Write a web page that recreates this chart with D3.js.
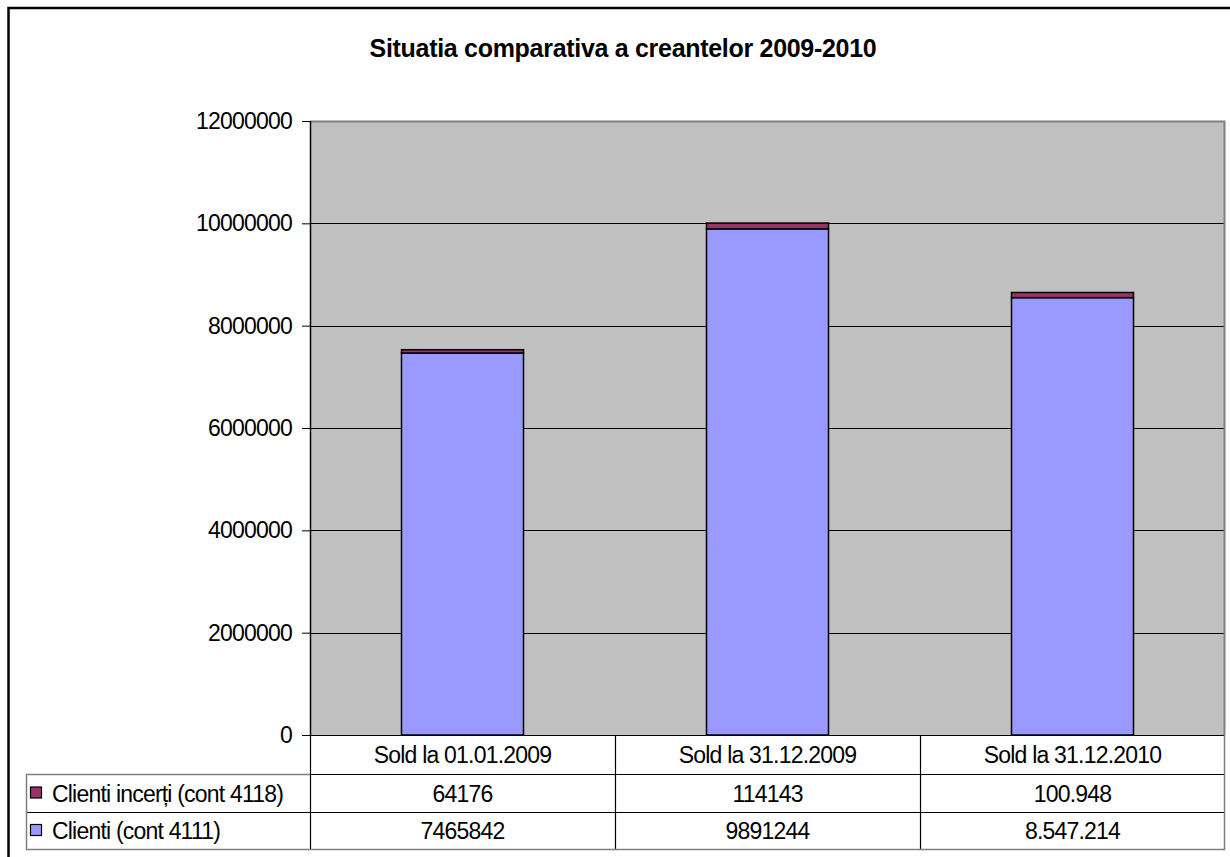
<!DOCTYPE html>
<html>
<head>
<meta charset="utf-8">
<script src="https://cdn.jsdelivr.net/npm/d3@7"></script>
<style>
  html, body { margin: 0; padding: 0; background: #fff; }
  svg { display: block; }
  text { font-family: "Liberation Sans", Arial, sans-serif; fill: #000; }
</style>
</head>
<body>
<svg id="chart" width="1230" height="857"></svg>
<script>
// ---- data ----
const title = "Situatia comparativa a creantelor 2009-2010";
const categories = ["Sold la 01.01.2009", "Sold la 31.12.2009", "Sold la 31.12.2010"];
const seriesNames = ["Clienti (cont 4111)", "Clienti incerți (cont 4118)"];
const clienti = [7465842, 9891244, 8547214];
const clientiIncerti = [64176, 114143, 100948];
const clientiLabels = ["7465842", "9891244", "8.547.214"];
const clientiIncertiLabels = ["64176", "114143", "100.948"];
const yTicks = [0, 2000000, 4000000, 6000000, 8000000, 10000000, 12000000];
const seriesColors = ["#9999FF", "#993366"];

// ---- layout ----
const svg = d3.select("#chart");
const plot = { left: 310, right: 1225, top: 121, bottom: 735 };
const fontSize = 23;
const ls = "-0.8px";

// outer chart border
svg.append("rect")
  .attr("x", 8.5).attr("y", 8).attr("width", 1240).attr("height", 900)
  .attr("fill", "#fff").attr("stroke", "#000").attr("stroke-width", 2.5);

// title
svg.append("text")
  .attr("x", 623).attr("y", 57)
  .attr("text-anchor", "middle")
  .style("font-size", "25px").style("font-weight", "bold")
  .style("letter-spacing", "-0.3px")
  .text(title);

const x = d3.scaleBand().domain(categories)
  .range([plot.left, plot.right]).paddingInner(0.6).paddingOuter(0.3);
const y = d3.scaleLinear().domain([0, 12000000]).range([plot.bottom, plot.top]);

// plot background
svg.append("rect")
  .attr("x", plot.left).attr("y", plot.top)
  .attr("width", plot.right - plot.left).attr("height", plot.bottom - plot.top)
  .attr("fill", "#C0C0C0");

// gridlines
svg.append("g").selectAll("line")
  .data(yTicks.filter(t => t > 0 && t < 12000000))
  .join("line")
  .attr("x1", plot.left).attr("x2", plot.right)
  .attr("y1", d => Math.round(y(d)) + 0.5).attr("y2", d => Math.round(y(d)) + 0.5)
  .attr("stroke", "#000").attr("stroke-width", 1);

// plot border top/right (gray)
svg.append("path")
  .attr("d", `M${plot.left},${plot.top + 0.5}H${plot.right - 0.5}V${plot.bottom}`)
  .attr("fill", "none").attr("stroke", "#808080").attr("stroke-width", 2);

// stacked bars
const rows = categories.map((c, i) => ({ cat: c, a: clienti[i], b: clientiIncerti[i] }));
const stack = d3.stack().keys(["a", "b"])(rows);
svg.append("g").selectAll("g")
  .data(stack)
  .join("g")
  .attr("fill", (d, i) => seriesColors[i])
  .selectAll("rect")
  .data(d => d)
  .join("rect")
  .attr("x", d => x(d.data.cat))
  .attr("width", x.bandwidth())
  .attr("y", d => y(d[1]))
  .attr("height", d => y(d[0]) - y(d[1]))
  .attr("stroke", "#000").attr("stroke-width", 1.5);

// y axis
const yAxis = d3.axisLeft(y).tickValues(yTicks).tickFormat(d3.format("d"))
  .tickSize(8).tickPadding(10);
const gy = svg.append("g").attr("transform", `translate(${plot.left},0)`).call(yAxis);
gy.select(".domain").remove();
gy.selectAll(".tick line").attr("stroke", "#000").attr("stroke-width", 1);
gy.selectAll(".tick text")
  .style("font-size", fontSize + "px")
  .style("letter-spacing", ls)
  .style("font-family", '"Liberation Sans", Arial, sans-serif')
  .attr("fill", "#000");
svg.append("line")
  .attr("x1", plot.left + 0.5).attr("x2", plot.left + 0.5)
  .attr("y1", plot.top).attr("y2", plot.bottom)
  .attr("stroke", "#000").attr("stroke-width", 1.5);

// ---- data table ----
const rowY = [735, 774, 812, 849];
const tableLeft = 26;
const colEdges = [plot.left, ...categories.map(c => x(c) + x.bandwidth() / 2 + x.step() / 2)];
const t = svg.append("g");

// category header row
t.selectAll("text.cat").data(categories).join("text")
  .attr("class", "cat")
  .attr("x", d => x(d) + x.bandwidth() / 2)
  .attr("y", (rowY[0] + rowY[1]) / 2 + 8)
  .attr("text-anchor", "middle")
  .style("font-size", fontSize + "px")
  .style("letter-spacing", ls)
  .text(d => d);

const tableRows = [
  { name: seriesNames[1], color: seriesColors[1], labels: clientiIncertiLabels },
  { name: seriesNames[0], color: seriesColors[0], labels: clientiLabels }
];
tableRows.forEach((r, ri) => {
  const cy = (rowY[ri + 1] + rowY[ri + 2]) / 2;
  t.append("rect")
    .attr("x", 30.5).attr("y", cy - 6).attr("width", 11).attr("height", 11)
    .attr("fill", r.color).attr("stroke", "#000").attr("stroke-width", 1.2);
  t.append("text")
    .attr("x", 52).attr("y", cy + 8.5)
    .style("font-size", fontSize + "px")
    .style("letter-spacing", ls)
    .text(r.name);
  t.selectAll(null).data(categories).join("text")
    .attr("x", d => x(d) + x.bandwidth() / 2)
    .attr("y", cy + 8.5)
    .attr("text-anchor", "middle")
    .style("font-size", fontSize + "px")
    .style("letter-spacing", ls)
    .text((d, i) => r.labels[i]);
});

// inner lines (black)
t.append("line").attr("x1", tableLeft).attr("x2", plot.right)
  .attr("y1", rowY[2] + 0.5).attr("y2", rowY[2] + 0.5)
  .attr("stroke", "#000").attr("stroke-width", 1);
t.append("line").attr("x1", plot.left).attr("x2", plot.right)
  .attr("y1", rowY[1] + 0.5).attr("y2", rowY[1] + 0.5)
  .attr("stroke", "#000").attr("stroke-width", 1);
t.append("line").attr("x1", plot.left).attr("x2", plot.right)
  .attr("y1", rowY[0] + 0.5).attr("y2", rowY[0] + 0.5)
  .attr("stroke", "#000").attr("stroke-width", 1);
t.selectAll("line.col").data(colEdges.slice(0, 3)).join("line")
  .attr("class", "col")
  .attr("x1", d => Math.round(d) + 0.5).attr("x2", d => Math.round(d) + 0.5)
  .attr("y1", rowY[0]).attr("y2", rowY[3])
  .attr("stroke", "#000").attr("stroke-width", 1.2);
// outer table border (gray)
t.append("path")
  .attr("d", `M${plot.left},${rowY[1] + 0.5}H${tableLeft + 0.5}V${rowY[3] + 0.5}H${plot.right - 0.5}V${rowY[0]}`)
  .attr("fill", "none").attr("stroke", "#808080").attr("stroke-width", 1.5);
</script>
</body>
</html>
